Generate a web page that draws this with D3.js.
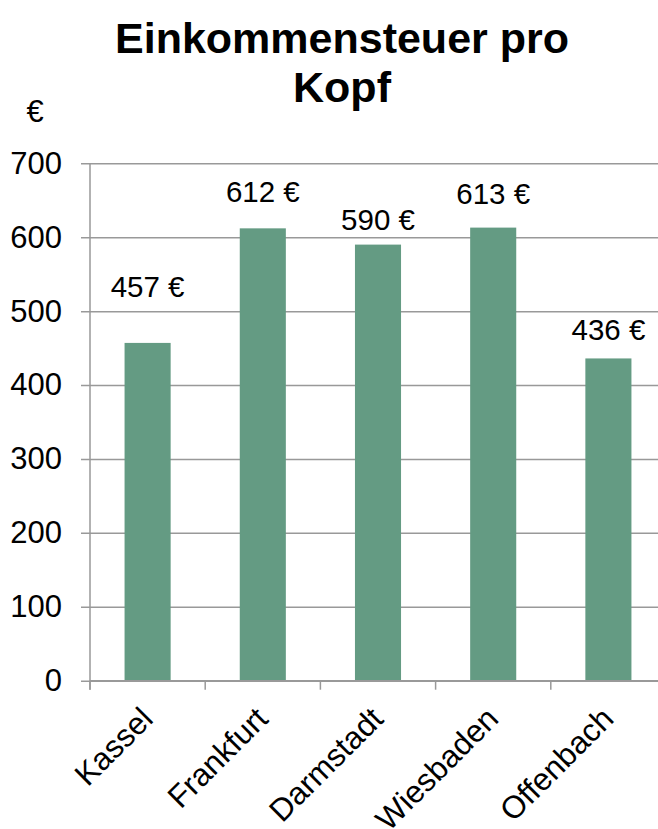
<!DOCTYPE html>
<html>
<head>
<meta charset="utf-8">
<script src="https://cdn.jsdelivr.net/npm/d3@7"></script>
<style>
  body { margin: 0; background: #fff; }
  svg { display: block; font-family: "Liberation Sans", Arial, sans-serif; }
</style>
</head>
<body>
<div id="chart"></div>
<script>
// data
const cities = ['Kassel', 'Frankfurt', 'Darmstadt', 'Wiesbaden', 'Offenbach'];
const taxPerHead = [457, 612, 590, 613, 436];
const yTicks = [0, 100, 200, 300, 400, 500, 600, 700];

// label lift above bar top (px) - labels were placed by hand in the original
const labelLift = [46, 26, 15, 24, 18];

const width = 658, height = 829;
const margin = {top: 163.3, left: 90, bottom: 148.3};
const plotRight = 666; // the plot runs past the right edge in the original

const svg = d3.select('#chart').append('svg')
  .attr('width', width)
  .attr('height', height);

const x = d3.scaleBand()
  .domain(cities)
  .range([margin.left, plotRight])
  .paddingInner(0.6)
  .paddingOuter(0.3);

const y = d3.scaleLinear()
  .domain([0, 700])
  .range([height - margin.bottom, margin.top]);

const grey = '#999';

// gridlines + y axis
const yAxis = svg.append('g')
  .attr('transform', 'translate(' + margin.left + ',0)')
  .call(d3.axisLeft(y).tickValues(yTicks).tickSize(-(plotRight - margin.left)).tickSizeOuter(0).tickPadding(28));
yAxis.select('.domain').remove();
yAxis.selectAll('.tick line')
  .attr('x1', -9)
  .attr('stroke', grey)
  .attr('stroke-width', 1.5);
yAxis.selectAll('.tick text')
  .attr('font-size', 31)
  .attr('fill', '#000')
  .attr('x', -28);

// bars
svg.append('g').selectAll('rect')
  .data(taxPerHead)
  .enter().append('rect')
    .attr('x', (d, i) => x(cities[i]))
    .attr('y', d => y(d))
    .attr('width', x.bandwidth())
    .attr('height', d => y(0) - y(d))
    .attr('fill', '#649b83');

// vertical axis line
svg.append('line')
  .attr('x1', margin.left).attr('x2', margin.left)
  .attr('y1', y(700)).attr('y2', y(0) + 9)
  .attr('stroke', grey).attr('stroke-width', 1.5);

// x axis with category ticks between groups
const xStep = x.step();
const xAxis = svg.append('g')
  .attr('transform', 'translate(0,' + y(0) + ')');
xAxis.append('line')
  .attr('x1', margin.left).attr('x2', plotRight)
  .attr('stroke', grey).attr('stroke-width', 1.5);
xAxis.selectAll('.sep')
  .data(d3.range(cities.length + 1))
  .enter().append('line')
    .attr('class', 'sep')
    .attr('x1', i => margin.left + i * xStep)
    .attr('x2', i => margin.left + i * xStep)
    .attr('y1', 0).attr('y2', 9)
    .attr('stroke', grey).attr('stroke-width', 1.5);

xAxis.selectAll('.cat')
  .data(cities)
  .enter().append('text')
    .attr('class', 'cat')
    .attr('text-anchor', 'end')
    .attr('font-size', 31.5)
    .attr('transform', d => 'translate(' + (x(d) + x.bandwidth() / 2 + 7) + ',40) rotate(-45)')
    .text(d => d);

// value labels
svg.append('g').selectAll('text')
  .data(taxPerHead)
  .enter().append('text')
    .attr('x', (d, i) => x(cities[i]) + x.bandwidth() / 2)
    .attr('y', (d, i) => y(d) - labelLift[i])
    .attr('text-anchor', 'middle')
    .attr('font-size', 29.5)
    .text(d => d + ' €');

// title
svg.append('text')
  .attr('x', 342).attr('y', 53)
  .attr('text-anchor', 'middle')
  .attr('font-size', 43)
  .attr('font-weight', 'bold')
  .selectAll('tspan')
  .data(['Einkommensteuer pro', 'Kopf'])
  .enter().append('tspan')
    .attr('x', 342)
    .attr('dy', (d, i) => i ? 49 : 0)
    .text(d => d);

// unit label
svg.append('text')
  .attr('x', 35).attr('y', 122)
  .attr('text-anchor', 'middle')
  .attr('font-size', 31)
  .text('€');
</script>
</body>
</html>
